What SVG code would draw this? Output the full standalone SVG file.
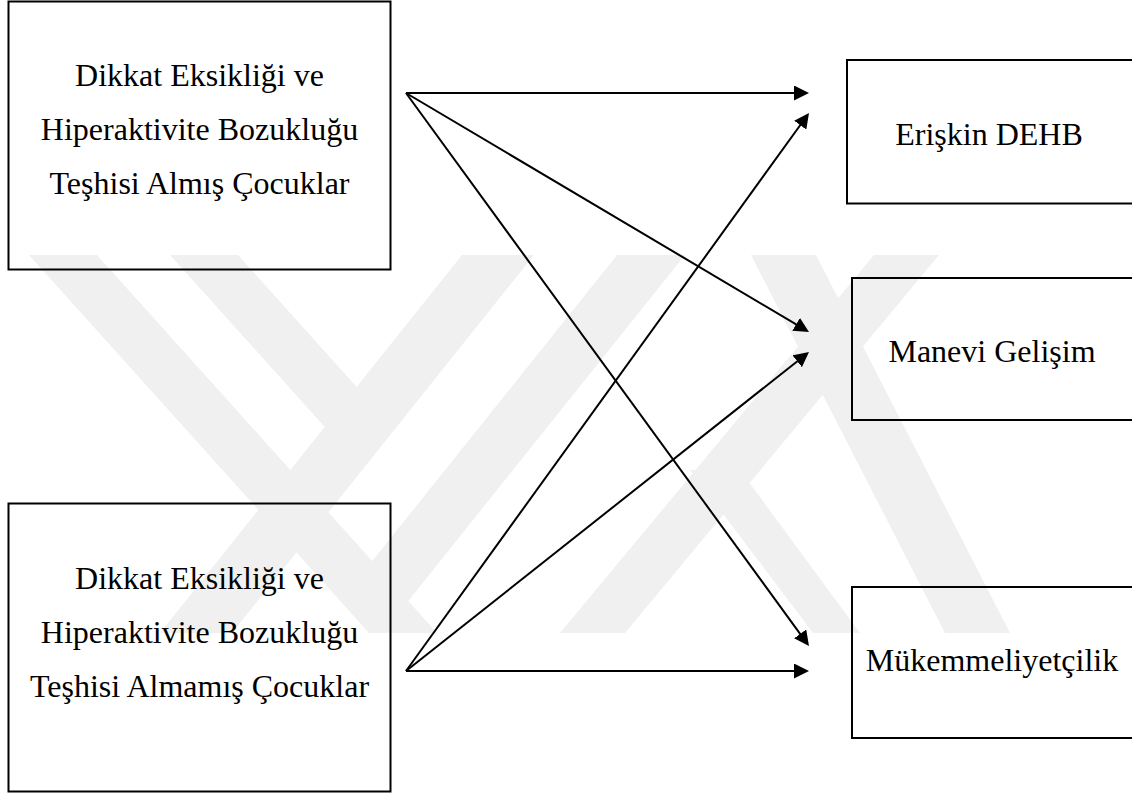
<svg xmlns="http://www.w3.org/2000/svg" width="1132" height="793" viewBox="0 0 1132 793">
<style>
.box{fill:none;stroke:#000;stroke-width:2}
.t{font-family:"Liberation Serif","Times New Roman",serif;font-size:32px;fill:#000;text-anchor:middle}
.c{stroke:#000;stroke-width:2;fill:none;marker-end:url(#ah)}
.wm{fill:#f0f0f0}
</style>
<defs>
<marker id="ah" markerUnits="userSpaceOnUse" markerWidth="15" markerHeight="15" viewBox="0 0 15 15" refX="3" refY="7.5" orient="auto">
<path d="M0,0 L15,7.5 L0,15 z" fill="#000"/>
</marker>
</defs>
<rect width="1132" height="793" fill="#fff"/>
<g id="watermark">
<polygon class="wm" points="29,255 97,255 437,633 369,633"/>
<polygon class="wm" points="462,255 534,255 232,633 160,633"/>
<polygon class="wm" points="170,255 238,255 375.6,407.9 343.6,447.9"/>
<polygon class="wm" points="617,255 685,255 392.3,620.9 356.3,580.9"/>
<polygon class="wm" points="751,255 816,255 1010,633 945,633"/>
<polygon class="wm" points="874,255 939,255 625,633 560,633"/>
<polygon class="wm" points="690,470 740,470 860,633 813,633"/>
</g>
<g id="n1">
<rect class="box" x="8.5" y="1.5" width="382" height="268"/>
<text class="t" x="199.5" y="86">Dikkat Eksikliği ve</text>
<text class="t" x="199.5" y="140">Hiperaktivite Bozukluğu</text>
<text class="t" x="199.5" y="194">Teşhisi Almış Çocuklar</text>
</g>
<g id="n2">
<rect class="box" x="8.5" y="503.5" width="382" height="288"/>
<text class="t" x="199.5" y="589">Dikkat Eksikliği ve</text>
<text class="t" x="199.5" y="643">Hiperaktivite Bozukluğu</text>
<text class="t" x="199.5" y="697">Teşhisi Almamış Çocuklar</text>
</g>
<g id="n3">
<rect class="box" x="847" y="60" width="300" height="143.5"/>
<text class="t" x="989" y="145">Erişkin DEHB</text>
</g>
<g id="n4">
<rect class="box" x="852" y="278" width="300" height="142"/>
<text class="t" x="992" y="362">Manevi Gelişim</text>
</g>
<g id="n5">
<rect class="box" x="852" y="587" width="300" height="151"/>
<text class="t" x="992" y="671">Mükemmeliyetçilik</text>
</g>
<g id="connectors">
<line class="c" x1="406" y1="93" x2="797" y2="93"/>
<line class="c" x1="406" y1="93" x2="798.68" y2="325.88"/>
<line class="c" x1="406" y1="93" x2="801.93" y2="636.3"/>
<line class="c" x1="406" y1="671" x2="801.97" y2="122.73"/>
<line class="c" x1="406" y1="671" x2="799.59" y2="359.45"/>
<line class="c" x1="406" y1="671" x2="797" y2="671"/>
</g>
</svg>
